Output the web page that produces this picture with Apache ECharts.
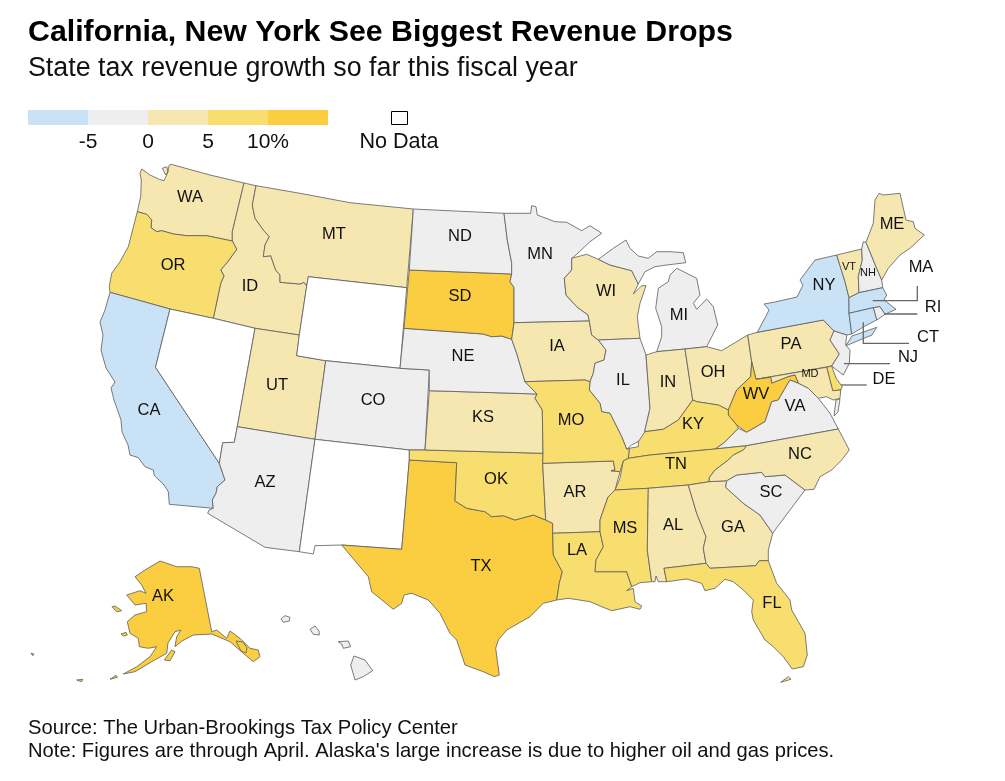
<!DOCTYPE html>
<html>
<head>
<meta charset="utf-8">
<style>html,body{margin:0;padding:0;background:#fff}#chart{width:1005px;height:781px}</style>
<script src="https://cdn.jsdelivr.net/npm/echarts@6/dist/echarts.min.js"></script>
</head>
<body>
<div id="chart"></div>
<script>
var FONT = '"Liberation Sans", Arial, sans-serif'

// chart data (bins only, so values are estimates)
var states = ['AK','AL','AR','AZ','CA','CO','CT','DE','FL','GA','HI','IA','ID','IL','IN','KS','KY','LA','MA','MD','ME','MI','MN','MO','MS','MT','NC','ND','NE','NH','NJ','NY','OH','OK','OR','PA','RI','SC','SD','TN','TX','UT','VA','VT','WA','WI','WV']
var growth = [12,2,2,-2,-7,-2,-7,7,7,2,-2,2,2,-2,2,2,7,7,-7,2,2,-2,-2,7,7,2,2,-2,-2,-2,-2,-7,2,7,7,2,-2,-2,12,7,12,2,-2,2,2,2,12]
var noData = ['NV','WY','NM']
var binEdges = [-5,0,5,10]
var binTicks = ['-5','0','5','10%']
var binColors = ['#c9e2f6','#eeeeee','#f6e7b0','#f8de6f','#fbce42']
var smallLabels = ['VT','NH','MD']

// state outlines, traced in screen pixels (basemap, drawn by the map series)
var shapes = {
  WA:[[[141.7,169],[150,175],[159.3,179.3],[164,180.7],[166.7,175],[169.3,165],[171,164.3],[210,175],[244,183],[232.3,231.7],[232.3,241],[206.7,235.7],[186.7,235.7],[173.3,234],[161.7,230.7],[156.7,231.7],[151,227.7],[151.7,220],[146.7,214.3],[137.3,211.7],[140.7,196.7],[141.3,180],[140,173.3]],
      [[162.3,168.3],[166.7,166.7],[168.3,171.7],[165.7,175]]],
  ID:[[[244,183],[256,185.7],[252.3,205],[255,218.3],[263.3,230],[269.3,236.7],[265,245],[263.3,256.7],[270.7,255.7],[275.7,270],[280,275],[280,282.3],[300,284],[304,282.3],[306.7,286],[299.3,335],[255,328.3],[213.3,318.3],[220.7,283.3],[224,276],[220.7,270],[228.3,261],[236.7,249.3],[232.3,241],[232.3,231.7]]],
  MT:[[[256,185.7],[300,193.3],[350,202.7],[413.3,209],[406.7,287.7],[308.3,276.7],[306.7,286],[304,282.3],[300,284],[280,282.3],[280,275],[275.7,270],[270.7,255.7],[263.3,256.7],[265,245],[269.3,236.7],[263.3,230],[255,218.3],[252.3,205]]],
  OR:[[[137.3,211.7],[146.7,214.3],[151.7,220],[151,227.7],[156.7,231.7],[161.7,230.7],[173.3,234],[186.7,235.7],[206.7,235.7],[232.3,241],[236.7,249.3],[228.3,261],[220.7,270],[224,276],[220.7,283.3],[213.3,318.3],[170,309],[110,292.3],[109.3,286.7],[111.7,273.3],[120,261.7],[128.3,246.7]]],
  CA:[[[110,292.3],[170,309],[155.5,367.3],[219.3,463.3],[225,480],[217.3,486.7],[216,493.3],[212.3,500],[213.3,508.3],[169.3,504.3],[168.3,491.7],[163.3,484],[154.3,475.7],[153.3,470],[145,466.7],[138.3,457.7],[130,455],[128,445],[122,432],[121,420],[114,400],[111,388],[115,382],[106,368],[101,350],[103,335],[100,322],[105,310]]],
  NV:[[[170,309],[213.3,318.3],[255,328.3],[237.3,426.7],[234.3,442.3],[222.7,442.7],[219.3,463.3],[155.5,367.3]]],
  UT:[[[255,328.3],[299.3,335],[296.7,355.7],[325.7,360.7],[315,439.3],[237.3,426.7]]],
  WY:[[[308.3,276.7],[406.7,287.7],[400,368.3],[325.7,360.7],[296.7,355.7],[299.3,335],[306.7,286]]],
  CO:[[[325.7,360.7],[400,368.3],[429.3,370],[425,450],[409.3,450],[315,439.3]]],
  AZ:[[[237.3,426.7],[315,439.3],[299.3,551.7],[265,547.3],[207.7,513.3],[209,510],[213.3,508.3],[212.3,500],[216,493.3],[217.3,486.7],[225,480],[219.3,463.3],[222.7,442.7],[234.3,442.3]]],
  NM:[[[315,439.3],[409.3,450],[409.3,460],[401.7,549.3],[341.7,545],[315,545.7],[313.3,554],[299.3,551.7]]],
  TX:[[[409.3,460],[456.7,462.7],[455,501],[466.7,508.3],[485,511.7],[491.7,516.7],[503.3,515.7],[515,520],[533.3,515],[545.7,520],[552.7,523.3],[552.7,533.3],[553.3,555],[562.3,571.7],[559.3,583.3],[556.7,600],[543.3,603.3],[530,616.7],[506.7,630],[498.3,640],[495.7,648.3],[499.3,675],[494.3,676.7],[483.3,671.7],[465,665],[456.7,640],[450,633.3],[440,613.3],[428.3,600],[411.7,593.3],[404,595],[401.7,603.3],[393.3,609.3],[371.7,591.7],[368.3,576.7],[341.7,545],[401.7,549.3]]],
  OK:[[[409.3,450],[425,450],[543,453.3],[542.7,463.3],[545.7,520],[533.3,515],[515,520],[503.3,515.7],[491.7,516.7],[485,511.7],[466.7,508.3],[455,501],[456.7,462.7],[409.3,460]]],
  KS:[[[429.3,390.7],[537,394],[535,398.3],[542.3,410],[543,453.3],[425,450]]],
  NE:[[[404,328.3],[483.3,334],[491.7,336.7],[501.7,336],[511.7,339.3],[516.7,353.3],[525,381.7],[537,394],[429.3,390.7],[429.3,370],[400,368.3]]],
  SD:[[[409.3,270],[511.7,274],[510,281.7],[514,287.3],[514,322.7],[511.7,339.3],[501.7,336],[491.7,336.7],[483.3,334],[404,328.3]]],
  ND:[[[413.3,209],[504,213.3],[507.3,240],[511.7,263.3],[511.7,274],[409.3,270]]],
  MN:[[[504,213.3],[530.7,213.3],[531.7,205.7],[536,206.7],[537.3,215],[555,221.7],[566.7,222.3],[581.7,230.7],[590,225.7],[601.7,233.3],[590,241.7],[574,256.7],[571.7,258.3],[571.7,270],[564.3,278.3],[566,295],[576.7,306.7],[588,315],[589.3,321],[514,322.7],[514,287.3],[510,281.7],[511.7,274],[511.7,263.3],[507.3,240]]],
  IA:[[[514,322.7],[589.3,321],[591.7,335],[598.3,340],[606,350],[604,360],[595,363.3],[593.3,373.3],[590,381.7],[585,380],[525,381.7],[516.7,353.3],[511.7,339.3]]],
  WI:[[[571.7,258.3],[586.7,254.3],[598.3,259.3],[610,265],[631.7,270.7],[638.3,284],[633.3,294],[641.7,285.7],[646,285.7],[640,303.3],[637.3,316.7],[640,338.3],[598.3,340],[591.7,335],[589.3,321],[588,315],[576.7,306.7],[566,295],[564.3,278.3],[571.7,270]]],
  IL:[[[598.3,340],[640,338.3],[646,355],[650,408.3],[645,430],[644,438.3],[631.7,445],[626.7,449.3],[621.7,436.7],[610,413.3],[601.7,411.7],[600,403.3],[589.3,390],[590,381.7],[593.3,373.3],[595,363.3],[604,360],[606,350]]],
  MI:[[[676.7,268.3],[696.7,278.3],[700,295],[693.3,303.3],[696.7,309.3],[706.7,299],[713.3,306.7],[717.7,325],[706.7,346.7],[685,349],[656.7,351.7],[661.7,336.7],[661.7,326.7],[655.7,308.3],[658.3,288.3],[668.3,281.7],[670,275]],
      [[598.3,259.3],[613.3,248.3],[626,240],[630,248.3],[638.3,256],[648.3,258.3],[656.7,251.7],[670,251.7],[683.3,252.7],[685.7,262.7],[666.7,265],[655,266.7],[645,271.7],[638.3,284],[631.7,270.7],[610,265]]],
  IN:[[[646,355],[656.7,351.7],[685,349],[692.7,400],[678.3,420],[663.3,429.3],[645,431.7],[645,430],[650,408.3]]],
  OH:[[[685,349],[706.7,346.7],[721.7,350.7],[747.7,335],[751.7,361.7],[750.7,376.7],[736.7,390],[728.3,410],[718.3,405],[696.7,401.7],[692.7,400]]],
  PA:[[[747.7,335],[757.3,332.3],[823.3,320],[834,331],[830,340],[839.3,354],[831.7,366],[756,379.3],[751.7,361.7]]],
  NY:[[[757.3,332.3],[766,316],[769,310],[764,304],[775,302],[797,297],[803,285],[800,280],[815,260],[836.7,255],[845,281.7],[849,297.7],[849,313.3],[851.7,334],[846.7,335],[834,331],[823.3,320]],
      [[845.7,346],[852,336],[865,331.5],[876.7,327.3],[872,335],[855,342]]],
  VT:[[[836.7,255],[861.7,249],[862.3,260],[858.3,276.7],[859,292.7],[849,297.7],[845,281.7]]],
  NH:[[[861.7,249],[863.3,241.7],[866,242.3],[876.7,268.3],[881.7,280],[882.7,287.7],[859,292.7],[858.3,276.7],[862.3,260]]],
  ME:[[[866,242.3],[873.3,223.3],[875,200],[879,193.3],[883.3,195],[900,193.3],[906,220],[913.3,221.7],[915,228.3],[924.3,235],[910,248.3],[900,255],[888.3,268.3],[881.7,280],[876.7,268.3]]],
  MA:[[[849,297.7],[859,292.7],[882.7,287.7],[886.7,295],[884,300],[896,309.3],[885,314.3],[880,306.7],[873.3,307.7],[849,313.3]]],
  RI:[[[873.3,307.7],[880,306.7],[885,314.3],[876.7,320]]],
  CT:[[[849,313.3],[873.3,307.7],[876.7,320],[865,326],[851.7,334]]],
  NJ:[[[834,331],[846.7,335],[845.7,345],[850,350],[849.3,363.3],[843.3,375],[836.7,370],[831.7,366],[839.3,354],[830,340]]],
  DE:[[[826.7,367.3],[831.7,366],[836,378],[842.3,386.7],[840.7,390],[832.7,390.7]]],
  MD:[[[756,379.3],[826.7,367.3],[832.7,390.7],[840.7,390],[840,398.3],[833.3,400],[826.7,396.7],[818.3,398.3],[808.3,388.3],[798.3,383.3],[795,375],[788.3,376.7],[771.7,383.3],[770.7,377.3]]],
  WV:[[[751.7,361.7],[756,379.3],[770.7,377.3],[771.7,383.3],[788.3,376.7],[795,375],[798.3,383.3],[790,380],[785,388.3],[778.3,400],[771.7,401.7],[765,421.7],[746.7,432.3],[736.7,425],[728.3,415],[728.3,410],[736.7,390],[750.7,376.7]]],
  VA:[[[798.3,383.3],[808.3,388.3],[818.3,398.3],[830,413.3],[838.3,429],[746.7,445.7],[715,449],[723.3,443.3],[738.3,428.3],[746.7,432.3],[765,421.7],[771.7,401.7],[778.3,400],[785,388.3],[790,380]],
      [[836,400],[840,399],[838,412],[834,416]]],
  KY:[[[629.3,448.3],[638.3,446.7],[638.3,441.7],[645,431.7],[663.3,429.3],[678.3,420],[692.7,400],[696.7,401.7],[718.3,405],[728.3,410],[728.3,415],[736.7,425],[738.3,428.3],[723.3,443.3],[715,449],[650,455],[628.3,458.3]]],
  TN:[[[623.3,460.7],[628.3,458.3],[650,455],[715,449],[746.7,445.7],[743.3,450],[733.3,455],[728.3,460],[715,470],[709.3,477.7],[709.3,481.7],[688.3,485],[648.3,488.3],[615,490],[620,478.3]]],
  AR:[[[542.7,463.3],[613.3,461],[615,470],[611,470.7],[620,471.7],[615,490],[608,497],[600,520],[600,531.7],[552.7,533.3],[552.7,523.3],[545.7,520]]],
  MO:[[[525,381.7],[585,380],[590,381.7],[589.3,390],[600,403.3],[601.7,411.7],[610,413.3],[621.7,436.7],[626.7,449.3],[629.3,448.3],[628.3,458.3],[623.3,460.7],[620,471.7],[611,470.7],[615,470],[613.3,461],[542.7,463.3],[543,453.3],[542.3,410],[535,398.3],[537,394]]],
  LA:[[[552.7,533.3],[600,531.7],[603.3,546.7],[596,560],[595,571.7],[626.7,571.7],[631.7,586.7],[626.7,590.7],[633.3,588.3],[635,601.7],[641.7,606],[640,609.3],[630,606.7],[611.7,610.7],[601.7,606.7],[590,601.7],[568.3,598.3],[556.7,600],[559.3,583.3],[562.3,571.7],[553.3,555]]],
  MS:[[[615,490],[648.3,488.3],[647.3,550],[651.7,581.7],[640,582.7],[631.7,586.7],[626.7,571.7],[595,571.7],[596,560],[603.3,546.7],[600,531.7],[600,520],[608,497]]],
  AL:[[[648.3,488.3],[688.3,485],[696.7,513.3],[706,536.7],[703.3,548.3],[706,563.3],[664,568.3],[666.7,581.7],[658.3,581.7],[656,576],[655,581.7],[651.7,581.7],[647.3,550]]],
  GA:[[[688.3,485],[709.3,481.7],[726.7,480.7],[725.7,487.3],[743.3,503.3],[760,515],[772.7,533.3],[768.3,550],[768.3,560.7],[759.3,560.7],[755.7,565.7],[710,568.3],[706,563.3],[703.3,548.3],[706,536.7],[696.7,513.3]]],
  SC:[[[726.7,480.7],[736.7,475],[761.7,472.3],[765,476.7],[785,475],[805,490],[790,510],[780,523.3],[772.7,533.3],[760,515],[743.3,503.3],[725.7,487.3]]],
  NC:[[[746.7,445.7],[838.3,429],[849.3,450],[841.7,460],[831.7,470],[820,476.7],[814,489.3],[805,490],[785,475],[765,476.7],[761.7,472.3],[736.7,475],[726.7,480.7],[709.3,481.7],[709.3,477.7],[715,470],[728.3,460],[733.3,455],[743.3,450]]],
  FL:[[[664,568.3],[706,563.3],[710,568.3],[755.7,565.7],[759.3,560.7],[768.3,560.7],[776.7,583.3],[790,600],[791.7,610],[805,633.3],[807.3,655],[803.3,666.7],[792.3,669],[783.3,656.7],[773.3,646.7],[765,640],[753.3,620],[751.7,611.7],[753.3,600],[743.3,590],[733.3,581.7],[725,579.3],[715,588.3],[705,590.7],[701.7,583.3],[686.7,579],[666.7,581.7]],
      [[780.7,682.3],[788.3,676.7],[791,679.3]]],
  AK:[[[135,576.7],[145,570],[160,561],[176.7,566.7],[191.7,566.7],[199.3,568.3],[211.7,631.7],[216.7,630],[226.7,638.3],[230,631],[240,638.3],[250,648.3],[258.3,650],[260,656.7],[253.3,661.7],[243.3,653.3],[230,641.7],[211.7,634],[193.3,635],[182,641],[175,646.7],[176.7,636.7],[181,630],[175,631.7],[168,643],[166.7,653.3],[151.7,661.7],[135,671.7],[123.3,674],[136.7,666.7],[150,656.7],[156.7,646.7],[148.3,648.3],[139.3,646.7],[138.3,638.3],[130,633.3],[127.3,621.7],[135,615],[146.7,611.7],[146,603.3],[135,605],[126.7,595],[140,590.7],[146,593.3],[141.7,585]],
      [[164.3,660],[171.7,650],[175,651.7],[170,660.7]],
      [[121,634],[126,632.3],[127.3,635],[123.3,636]],
      [[112,606.7],[115,606],[121.7,610.7],[116.7,611.7]],
      [[110,679.3],[116,675.3],[117.3,677.3]],
      [[76.7,680],[82.7,679.3],[81.7,681.7]],
      [[31,653.3],[34,654],[32.7,655.7]],
      [[236,641],[243,642],[247,648],[246,653],[241,651]]],
  HI:[[[281,619],[285,615.7],[290,617.3],[289.3,621],[283.3,622.3]],
      [[310,629.3],[315,626],[319,631],[319.3,635],[313.3,634.3]],
      [[338.3,641.7],[348.3,641],[350.7,646.7],[343.3,648.3],[341.7,644]],
      [[354,656],[365,660],[372.7,670.7],[363.3,676.7],[355,680],[350.7,665]]]
}

// where each state label sits
var labelAt = {
  WA:[190,197],OR:[173,265],CA:[149,410],ID:[250,286],MT:[334,234],UT:[277,385],CO:[373,400],AZ:[265,482],
  ND:[460,236],SD:[460,296],NE:[463,356],KS:[483,417],OK:[496,479],TX:[481,566],MN:[540,254],IA:[557,346],
  MO:[571,420],AR:[575,492],LA:[577,550],WI:[606,291],IL:[623,380],MI:[679,315],IN:[668,382],OH:[713,372],
  KY:[693,424],TN:[676,464],MS:[625,528],AL:[673,525],GA:[733,527],FL:[772,603],SC:[771,492],NC:[800,454],
  VA:[795,406],WV:[756,394],PA:[791,344],NY:[824,285],ME:[892,224],VT:[849,267],NH:[868,273],MD:[810,374],
  MA:[921,267],RI:[933,307],CT:[928,337],NJ:[908,357],DE:[884,379],AK:[163,596]
}

// leader lines for the small north-east states
var leaders = [
  [[872.7,300.7],[917.3,300.7],[917.3,286]],
  [[884,314],[917.3,314]],
  [[863.3,322.3],[863.3,343.3],[909,343.3]],
  [[844,363.7],[890,363.7]],
  [[841,385],[866.7,385]]
]

var features = []
var minX = 9999, minY = 9999, maxX = 0, maxY = 0
Object.keys(shapes).forEach(function (code) {
  shapes[code].forEach(function (ring) {
    ring.forEach(function (p) {
      minX = Math.min(minX, p[0]); maxX = Math.max(maxX, p[0])
      minY = Math.min(minY, p[1]); maxY = Math.max(maxY, p[1])
    })
  })
  features.push({
    type: 'Feature',
    properties: { name: code, cp: labelAt[code] || shapes[code][0][0] },
    geometry: { type: 'MultiPolygon', coordinates: shapes[code].map(function (r) { return [r.concat([r[0]])] }) }
  })
})
echarts.registerMap('usa', { type: 'FeatureCollection', features: features })

var regions = smallLabels.map(function (c) { return { name: c, label: { fontSize: 11 } } })
// no label on Nevada, Wyoming, New Mexico, Hawaii
noData.concat(['HI']).forEach(function (c) { regions.push({ name: c, label: { show: false } }) })

var pieces = binColors.map(function (c, i) {
  return { min: i ? binEdges[i - 1] : -100, max: i < binEdges.length ? binEdges[i] : 100, color: c }
})

var legendGraphics = binTicks.map(function (t, i) {
  return {
    type: 'text', x: 88 + i * 60, y: 142,
    style: { text: t, font: '21px ' + FONT, fill: '#111', align: 'center', verticalAlign: 'middle' }
  }
})
legendGraphics.push({
  type: 'rect', shape: { x: 391.5, y: 111.5, width: 16, height: 13 },
  style: { fill: '#fff', stroke: '#000', lineWidth: 1 }
})
legendGraphics.push({
  type: 'text', x: 399, y: 142,
  style: { text: 'No Data', font: '21.6px ' + FONT, fill: '#111', align: 'center', verticalAlign: 'middle' }
})

var chart = echarts.init(document.getElementById('chart'), null, { renderer: 'canvas' })
chart.setOption({
  animation: false,
  backgroundColor: '#fff',
  title: [{
    text: 'California, New York See Biggest Revenue Drops',
    subtext: 'State tax revenue growth so far this fiscal year',
    left: 28, top: 18, padding: 0, itemGap: 7,
    textStyle: { fontFamily: FONT, fontWeight: 'bold', fontSize: 30.3, color: '#000' },
    subtextStyle: { fontFamily: FONT, fontSize: 26.8, color: '#111' }
  }, {
    text: "Source: The Urban-Brookings Tax Policy Center\nNote: Figures are through April. Alaska's large increase is due to higher oil and gas prices.",
    left: 28, top: 717, padding: 0,
    textStyle: { fontFamily: FONT, fontWeight: 'normal', fontSize: 20.2, lineHeight: 23, color: '#111' }
  }],
  visualMap: {
    type: 'piecewise', seriesIndex: 0, orient: 'horizontal',
    left: 28, top: 110, padding: 0, itemWidth: 60, itemHeight: 15, itemGap: 0,
    itemSymbol: 'rect', showLabel: false, selectedMode: false, hoverLink: false,
    pieces: pieces, outOfRange: { color: '#fff' }
  },
  geo: {
    map: 'usa',
    projection: { project: function (p) { return p }, unproject: function (p) { return p } },
    left: minX, top: minY, width: maxX - minX, height: maxY - minY,
    silent: true, roam: false,
    itemStyle: { areaColor: '#fff', borderColor: '#5c5c5c', borderWidth: 0.8 },
    label: { show: true, fontFamily: FONT, fontSize: 16.5, color: '#111' },
    emphasis: { disabled: true },
    regions: regions
  },
  graphic: legendGraphics,
  series: [{
    type: 'map', geoIndex: 0, silent: true,
    data: states.map(function (s, i) { return { name: s, value: growth[i] } })
  }, {
    type: 'lines', coordinateSystem: 'geo', polyline: true, silent: true, z: 5,
    lineStyle: { color: '#666', width: 1.3, opacity: 1 },
    data: leaders.map(function (l) { return { coords: l } })
  }]
})
</script>
</body>
</html>
